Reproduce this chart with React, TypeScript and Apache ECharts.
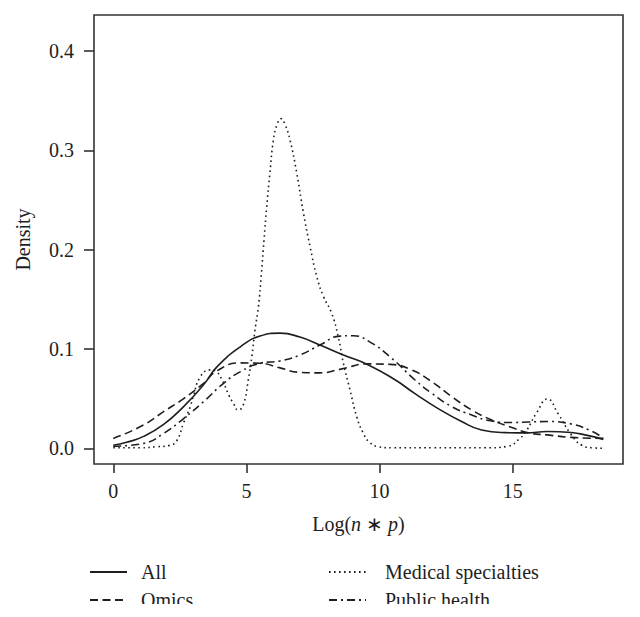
import React, { useEffect, useRef } from "react";
import * as echarts from "echarts";

// ---- data ----
const xTicks = [0, 5, 10, 15];
const yTicks = [0, 0.1, 0.2, 0.3, 0.4];

const seriesNames = ["All", "Omics", "Medical specialties", "Public health"];

const xAll = [0, 0.5, 1.14, 1.89, 2.64, 3.39, 3.89, 4.76, 5.51, 6.26, 7.01, 7.76, 8.64, 9.58, 10.58, 11.33, 12.2, 13.08, 13.83, 14.71, 15.5, 16.3, 17.2, 17.8, 18.4];
const yAll = [0.003, 0.006, 0.012, 0.024, 0.042, 0.064, 0.082, 0.102, 0.113, 0.116, 0.112, 0.104, 0.094, 0.084, 0.069, 0.055, 0.040, 0.027, 0.0185, 0.0158, 0.0155, 0.017, 0.016, 0.013, 0.009];

const xOmics = [0, 1.14, 1.89, 2.64, 3.39, 3.89, 4.76, 5.51, 6.26, 7.01, 7.76, 8.51, 9.58, 10.4, 11.2, 11.96, 12.71, 13.46, 14.21, 14.96, 15.6, 16.3, 17.2, 18.4];
const yOmics = [0.010, 0.0235, 0.037, 0.050, 0.0655, 0.078, 0.086, 0.0856, 0.081, 0.0765, 0.076, 0.0795, 0.085, 0.0845, 0.079, 0.067, 0.052, 0.0386, 0.0285, 0.021, 0.0155, 0.0135, 0.011, 0.010];

const xMedical = [0, 1.0, 1.63, 2.13, 2.39, 2.63, 2.89, 3.0, 3.27, 3.64, 3.88, 4.1, 4.35, 4.51, 4.69, 4.88, 5.07, 5.2, 5.32, 5.45, 5.56, 5.66, 5.76, 5.88, 6.01, 6.15, 6.3, 6.45, 6.64, 6.89, 7.14, 7.39, 7.64, 7.89, 8.2, 8.45, 8.64, 8.89, 9.14, 9.39, 9.6, 9.95, 10.5, 12, 14, 14.8, 15.27, 15.52, 15.9, 16.3, 16.7, 17.18, 17.6, 18.0, 18.4];
const yMedical = [0.0005, 0.0005, 0.0016, 0.003, 0.008, 0.025, 0.042, 0.052, 0.072, 0.079, 0.077, 0.068, 0.053, 0.0453, 0.0386, 0.0436, 0.069, 0.092, 0.119, 0.143, 0.176, 0.21, 0.243, 0.277, 0.31, 0.326, 0.332, 0.326, 0.31, 0.277, 0.237, 0.203, 0.173, 0.153, 0.136, 0.112, 0.0856, 0.0587, 0.0318, 0.0151, 0.0066, 0.0016, 0.0005, 0.0005, 0.0005, 0.002, 0.010, 0.018, 0.036, 0.0497, 0.035, 0.0144, 0.003, 0.0005, 0.0];

const xPublic = [0, 1.14, 1.89, 2.64, 3.39, 4.14, 4.76, 5.51, 6.26, 7.01, 7.76, 8.51, 9.01, 9.64, 10.4, 11.33, 11.96, 12.71, 13.46, 14.21, 14.96, 15.6, 16.3, 17.2, 17.9, 18.4];
const yPublic = [0.002, 0.005, 0.015, 0.030, 0.047, 0.0655, 0.077, 0.0856, 0.088, 0.094, 0.104, 0.113, 0.1134, 0.107, 0.092, 0.0688, 0.0554, 0.042, 0.0335, 0.0275, 0.026, 0.0265, 0.027, 0.0245, 0.018, 0.0104];

const FONT = "Liberation Serif";
const INK = "#1e1e1e";

const zip = (xs: number[], ys: number[]) => xs.map((x, i) => [x, ys[i]]);

export default function App() {
  const ref = useRef<HTMLDivElement>(null);
  useEffect(() => {
    if (!ref.current) return;
    const chart = echarts.init(ref.current, null, { renderer: "svg" });
    const mkSeries = (name: string, xs: number[], ys: number[], type: any, width = 1.5) => ({
      type: "line",
      name,
      data: zip(xs, ys),
      symbol: "none",
      showSymbol: false,
      smooth: 0.5,
      lineStyle: { color: INK, width, type },
      itemStyle: { color: INK },
      emphasis: { disabled: true },
    });
    const legendText = (padLeft: number) => ({
      fontFamily: FONT,
      fontSize: 20,
      color: INK,
      rich: {
        t: {
          fontFamily: FONT,
          fontSize: 20,
          color: INK,
          lineHeight: 20,
          padding: [0, 0, 0, padLeft],
        },
      },
    });
    const legendBase = {
      orient: "vertical",
      top: 562,
      height: 70,
      padding: 0,
      itemHeight: 14,
      itemGap: 8,
      selectedMode: false,
      formatter: (name: string) => "{t|" + name + "}",
      itemStyle: { color: "transparent", borderColor: "transparent", borderWidth: 0 },
    };
    chart.setOption({
      animation: false,
      backgroundColor: "#ffffff",
      textStyle: { fontFamily: FONT },
      grid: {
        left: 94,
        top: 15,
        width: 529,
        height: 449,
        show: true,
        borderColor: "#333",
        borderWidth: 1.6,
        backgroundColor: "transparent",
      },
      xAxis: {
        type: "value",
        min: -0.725,
        max: 19.14,
        name: "{a|Log(}{i|n}{a| ∗ }{i|p}{a|)}",
        nameLocation: "middle",
        nameGap: 50,
        nameTextStyle: {
          rich: {
            a: { fontFamily: FONT, fontSize: 20, color: INK },
            i: { fontFamily: FONT, fontSize: 20, color: INK, fontStyle: "italic" },
          },
        },
        axisLine: { show: false, onZero: false },
        axisTick: { show: true, length: 9, customValues: xTicks, lineStyle: { color: "#333", width: 1.6 } },
        axisLabel: { customValues: xTicks, margin: 17, fontFamily: FONT, fontSize: 20, color: INK },
        splitLine: { show: false },
      },
      yAxis: {
        type: "value",
        min: -0.0158,
        max: 0.4364,
        name: "Density",
        nameLocation: "middle",
        nameRotate: 90,
        nameGap: 61,
        nameTextStyle: { fontFamily: FONT, fontSize: 20, color: INK },
        axisLine: { show: false, onZero: false },
        axisTick: { show: true, length: 10, customValues: yTicks, lineStyle: { color: "#333", width: 1.6 } },
        axisLabel: {
          customValues: yTicks,
          margin: 20,
          fontFamily: FONT,
          fontSize: 20,
          color: INK,
          formatter: (v: number) => v.toFixed(1),
        },
        splitLine: { show: false },
      },
      legend: [
        {
          ...legendBase,
          left: 89,
          itemWidth: 37,
          data: [seriesNames[0], seriesNames[1]],
          textStyle: legendText(9),
        },
        {
          ...legendBase,
          left: 328,
          itemWidth: 37,
          data: [seriesNames[2], seriesNames[3]],
          textStyle: legendText(14),
        },
      ],
      series: [
        mkSeries(seriesNames[0], xAll, yAll, "solid", 1.6),
        mkSeries(seriesNames[1], xOmics, yOmics, [8, 4.5], 1.6),
        mkSeries(seriesNames[2], xMedical, yMedical, [1.6, 3.4], 1.6),
        mkSeries(seriesNames[3], xPublic, yPublic, [8, 4, 2, 4], 1.6),
      ],
    });
    return () => chart.dispose();
  }, []);
  return (
    <div
      ref={ref}
      style={{ position: "absolute", left: 0, top: 0, width: 640, height: 604, overflow: "hidden" }}
    />
  );
}
